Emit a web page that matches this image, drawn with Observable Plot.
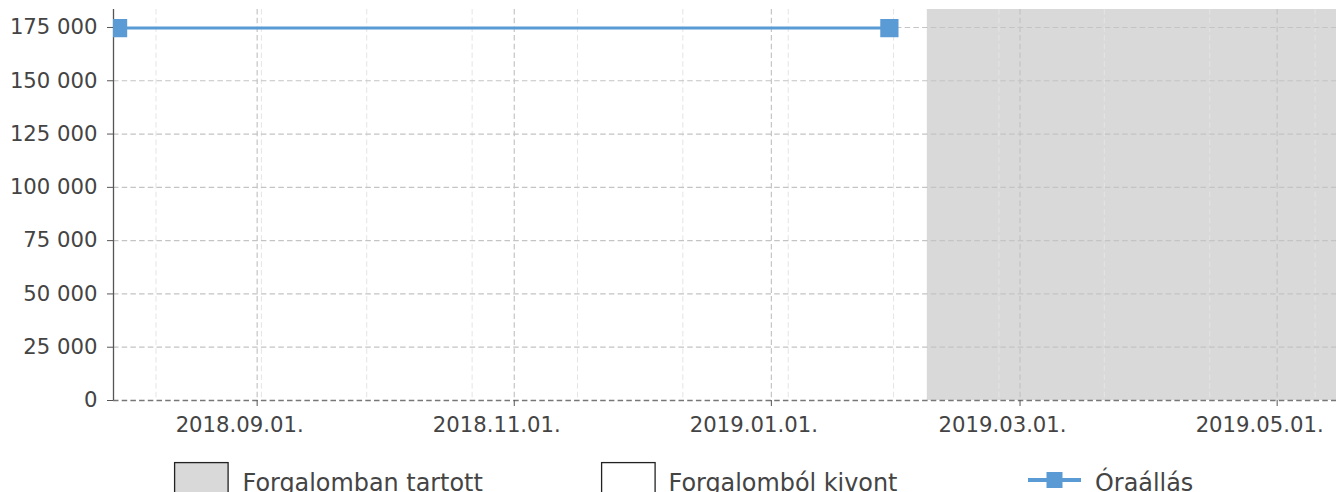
<!DOCTYPE html>
<html><head><meta charset="utf-8">
<script src="https://cdn.jsdelivr.net/npm/d3@7"></script>
<script src="https://cdn.jsdelivr.net/npm/@observablehq/plot@0.6"></script>
<style>
html,body{margin:0;padding:0;background:#fff;overflow:hidden;}
#wrap{position:relative;width:1337px;font-family:"DejaVu Sans",sans-serif;}
#wrap svg{display:block;}
</style></head><body><div id="wrap"></div>
<script>
// ---- data ----
const pointDates = ["2018-07-30", "2019-01-29"];
const pointValues = [174700, 174700];
const shadeStarts = ["2019-02-07"];
const shadeEnds = ["2019-05-20"];
const xDomain = ["2018-07-28T22:00Z", "2019-05-15T02:00Z"];
const majorTicks = ["2018-09-01", "2018-11-01", "2019-01-01", "2019-03-01", "2019-05-01"];
const minorTicks = ["2018-08-08", "2018-09-02", "2018-09-27", "2018-10-22", "2018-11-16", "2018-12-11",
                    "2019-01-05", "2019-01-30", "2019-02-24", "2019-03-21", "2019-04-15", "2019-05-10"];
const yTicks = [0, 25000, 50000, 75000, 100000, 125000, 150000, 175000];
const yMax = 183435;
const legendLabels = ["Forgalomban tartott", "Forgalomból kivont", "Óraállás"];

// ---- build ----
const parse = s => new Date(s.length === 10 ? s + "T00:00:00Z" : s);
const points = pointDates.map((d, i) => ({date: parse(d), value: pointValues[i]}));
const shades = shadeStarts.map((d, i) => ({start: parse(d), end: parse(shadeEnds[i])}));
const domain = xDomain.map(parse);
const majors = majorTicks.map(parse);
const minors = minorTicks.map(parse);

const BLUE = "#5b9bd5";
const GRID = "#c4c4c4";
const TEXT = "#444";
const dash = "5.5,3.2";

const chart = Plot.plot({
  width: 1337, height: 440,
  marginLeft: 113, marginRight: 1, marginTop: 9, marginBottom: 40,
  style: {fontFamily: "DejaVu Sans, sans-serif", fontSize: "21.2px", color: TEXT, background: "white", overflow: "visible"},
  x: {type: "utc", domain, label: null},
  y: {domain: [0, yMax], label: null},
  marks: [
    Plot.rect(shades, {x1: "start", x2: "end", fill: "#d9d9d9", clip: true}),
    Plot.ruleX(minors, {stroke: "#e4e4e4", strokeWidth: 1, strokeDasharray: dash}),
    Plot.ruleX(majors, {stroke: GRID, strokeWidth: 1.2, strokeDasharray: dash}),
    Plot.ruleY(yTicks.filter(d => d > 0), {stroke: GRID, strokeWidth: 1.2, strokeDasharray: dash}),
    Plot.ruleY([0], {stroke: "#777", strokeWidth: 1.3, strokeDasharray: dash}),
    // x tick marks
    Plot.axisX({ticks: majors, tickFormat: () => "", tickSize: 6, stroke: "#555", label: null}),
    // x tick labels (offset left as in the reference)
    Plot.axisX({ticks: majors, tickFormat: d3.utcFormat("%Y.%m.%d."), tickSize: 0, tickPadding: 16.5, dx: -17.5,
                fill: TEXT, label: null}),
    Plot.axisY({ticks: yTicks, tickFormat: d => d3.format(",")(d).replace(/,/g, " "), tickSize: 6, tickPadding: 10,
                stroke: "#555", fill: TEXT, label: null}),
    Plot.ruleX([domain[0]], {stroke: "#555", strokeWidth: 1.3}),
    Plot.line(points, {x: "date", y: "value", stroke: BLUE, strokeWidth: 3, clip: true}),
    Plot.dot(points, {x: "date", y: "value", symbol: "square", r: 10.3, fill: BLUE, stroke: "none", clip: true})
  ]
});
document.getElementById("wrap").appendChild(chart);

// ---- legend (below the chart) ----
const lg = d3.select("#wrap").append("svg")
  .attr("width", 1337).attr("height", 60)
  .style("font-family", "DejaVu Sans, sans-serif");
const fs = 23.9;
lg.append("rect").attr("x", 174.6).attr("y", 22.6).attr("width", 53.5).attr("height", 34)
  .attr("fill", "#d9d9d9").attr("stroke", "#222").attr("stroke-width", 1.3);
lg.append("text").attr("x", 242.5).attr("y", 50.5).attr("font-size", fs).attr("fill", TEXT).text(legendLabels[0]);
lg.append("rect").attr("x", 601.6).attr("y", 22.6).attr("width", 53.5).attr("height", 34)
  .attr("fill", "white").attr("stroke", "#222").attr("stroke-width", 1.3);
lg.append("text").attr("x", 668.5).attr("y", 50.5).attr("font-size", fs).attr("fill", TEXT).text(legendLabels[1]);
lg.append("line").attr("x1", 1028).attr("x2", 1081).attr("y1", 40).attr("y2", 40)
  .attr("stroke", BLUE).attr("stroke-width", 4);
lg.append("rect").attr("x", 1046.5).attr("y", 32).attr("width", 16).attr("height", 16).attr("fill", BLUE);
lg.append("text").attr("x", 1095).attr("y", 50.5).attr("font-size", fs).attr("fill", TEXT).text(legendLabels[2]);
</script>
</body></html>
